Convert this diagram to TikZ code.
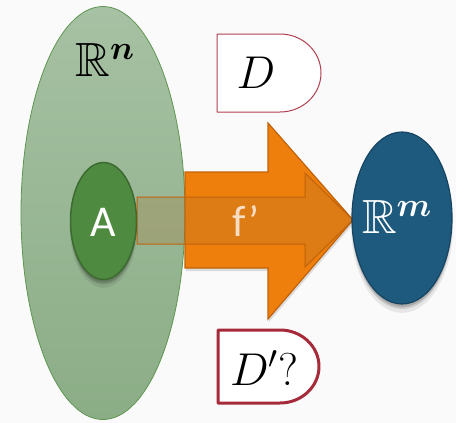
\RequirePackage{fix-cm}
\documentclass[tikz,border=0pt]{standalone}
\usepackage{amssymb,bm}
\usepackage{fontspec}
\newfontfamily\calib{Carlito}
\usetikzlibrary{shapes.geometric,shadows}
\definecolor{bgc}{HTML}{FAFAFA}
\definecolor{gtop}{HTML}{A6C1A3}
\definecolor{gbot}{HTML}{8BAD86}
\definecolor{gline}{HTML}{5E9650}
\definecolor{afill}{HTML}{4E8A40}
\definecolor{aline}{HTML}{3C6A31}
\definecolor{orfill}{HTML}{EE7F0C}
\definecolor{orline}{HTML}{C0620A}
\definecolor{inner}{HTML}{B07030}
\definecolor{bfill}{HTML}{1E5A7D}
\definecolor{bline}{HTML}{164462}
\definecolor{dline}{HTML}{B0404F}
\definecolor{dpline}{HTML}{A52A3A}
\tikzset{
  softshadow/.style={
    general shadow={fill=black, opacity=0.08, shadow yshift=-7pt, shadow scale=1.02},
    general shadow={fill=black, opacity=0.12, shadow yshift=-5pt},
    general shadow={fill=black, opacity=0.15, shadow yshift=-3pt}},
  bigtext/.style={inner sep=0pt, font=\fontsize{48}{50}\selectfont},
  sanslabel/.style={inner sep=0pt, text=white, font=\calib\fontsize{44}{46}\selectfont},
  boxline/.style={fill=white, line join=round}
}
\begin{document}
\begin{tikzpicture}[x=1pt,y=-1pt]
\useasboundingbox (0,0) rectangle (456,423);
\fill[bgc] (0,0) rectangle (456,423);

% big domain ellipse
\node[ellipse, inner sep=0pt, minimum width=164pt, minimum height=413pt,
      top color=gtop, bottom color=gbot, draw=gline, line width=0.8pt] (Rn) at (103,213) {};
\node[bigtext] (lRn) at (105,60) {$\mathbb{R}^{\bm{n}}$};

% big arrow
\coordinate (s1) at (185,172);
\draw[orline, fill=orfill, line width=1.2pt, line join=miter,
      general shadow={fill=black, opacity=0.12, shadow yshift=-3pt, shadow xshift=1pt}]
  (s1) -- (268,172) -- (268,123) -- (353,220) -- (268,319) -- (268,268) -- (185,268) -- cycle;

% inner translucent arrow
\draw[orline, line width=1pt, fill=inner, fill opacity=0.26]
  (137,197) -- (305,197) -- (305,173) -- (353,220) -- (305,267) -- (305,244) -- (137,244) -- cycle;

\node[sanslabel, text opacity=0.75] (fp) at (246,221) {f’};

% set A
\node[ellipse, inner sep=0pt, minimum width=66pt, minimum height=117pt,
      fill=afill, draw=aline, line width=1.5pt, softshadow] (A) at (103.5,221) {};
\node[sanslabel] (lA) at (103.5,222) {A};

% codomain ellipse
\node[ellipse, inner sep=0pt, minimum width=100pt, minimum height=172pt,
      fill=bfill, draw=bline, line width=1.2pt, softshadow] (Rm) at (402,218) {};
\node[bigtext, text=white] (lRm) at (397,217) {$\mathbb{R}^{\bm{m}}$};

% D box
\draw[boxline, draw=dline, line width=1pt]
  (217,34) -- (280,34) arc[start angle=-90, end angle=90, x radius=41, y radius=39] -- (217,112) -- cycle;
\node[bigtext, font=\fontsize{46}{48}\selectfont] (D) at (256,73) {$D$};

% D' box
\draw[boxline, draw=dpline, line width=3pt]
  (218,330) -- (280,330) arc[start angle=-90, end angle=90, x radius=39, y radius=36.5] -- (218,403) -- cycle;
\node[bigtext, font=\fontsize{46}{48}\selectfont] (Dp) at (264,368) {$D'?$};
\end{tikzpicture}
\end{document}
